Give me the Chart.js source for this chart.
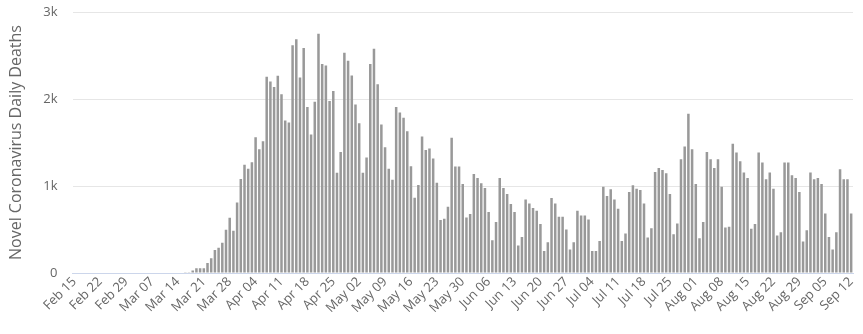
<!DOCTYPE html>
<html>
<head>
<meta charset="utf-8">
<script src="https://cdn.jsdelivr.net/npm/chart.js@4"></script>
<style>
  body { margin: 0; background: #fff; }
  #wrap { width: 863px; height: 334px; position: relative; }
</style>
</head>
<body>
<div id="wrap"><canvas id="deaths-chart"></canvas></div>
<script>
// first day of the series and how many days it covers
const startDate = new Date(2020, 1, 15);
const dayCount = 211;
const monthNames = ['Jan', 'Feb', 'Mar', 'Apr', 'May', 'Jun', 'Jul', 'Aug', 'Sep', 'Oct', 'Nov', 'Dec'];

// daily deaths, Feb 15 -> Sep 12
const dailyDeaths = [
    0, 0, 0, 0, 0, 0, 0, 0, 0, 0, 0, 0, 0, 0, 0,
    0, 0, 0, 0, 0, 0, 0, 0, 0, 0, 0, 0, 0, 0, 0,
    10, 10, 30, 55, 55, 55, 115, 170, 264, 290, 349, 496, 636,
    486, 811, 1081, 1243, 1197, 1274, 1560, 1421, 1514, 2255, 2201, 2139, 2266, 2054, 1753, 1730, 2618,
    2687, 2247, 2587, 1907, 1591, 1969, 2749, 2402, 2386, 1977, 2093, 1151, 1390, 2533, 2440, 2270, 1938,
    1722, 1151, 1328, 2402, 2579, 2170, 1707, 1444, 1197, 1073, 1907, 1846, 1784, 1629, 1228, 865, 1012,
    1569, 1415, 1431, 1315, 1038, 608, 623, 762, 1554, 1223, 1223, 1023, 638, 677, 1138, 1092,
    1031, 977, 700, 377, 585, 1092, 977, 908, 792, 700, 315, 415, 846, 800, 746, 715, 562,
    254, 354, 862, 800, 646, 646, 500, 269, 354, 715, 662, 662, 615, 254, 254, 369, 992,
    885, 962, 846, 738, 369, 454, 931, 1008, 969, 954, 800, 408, 515, 1162, 1208, 1185,
    1146, 908, 446, 569, 1308, 1454, 1831, 1423, 1023, 400, 585, 1392, 1308, 1208, 1308, 992, 523,
    531, 1485, 1385, 1285, 1154, 1092, 508, 562, 1385, 1269, 1077, 1154, 969, 431, 469, 1269, 1269,
    1123, 1092, 931, 362, 492, 1154, 1077, 1092, 1023, 685, 415, 269, 469, 1192, 1077, 1077, 685
];

const yTicks = [0, 1000, 2000, 3000];
const yTickLabels = ['0', '1k', '2k', '3k'];

const dayLabels = [];
for (let i = 0; i < dayCount; i++) {
    const d = new Date(startDate);
    d.setDate(startDate.getDate() + i);
    dayLabels.push(monthNames[d.getMonth()] + ' ' + String(d.getDate()).padStart(2, '0'));
}

const textColor = '#666666';
const font = { family: '"Open Sans", "DejaVu Sans", sans-serif', size: 13 };

const ctx = document.getElementById('deaths-chart').getContext('2d');
new Chart(ctx, {
    type: 'bar',
    data: {
        labels: dayLabels,
        datasets: [{
            label: 'Daily Deaths',
            data: dailyDeaths,
            backgroundColor: '#999999',
            borderWidth: 0,
            categoryPercentage: 0.8,
            barPercentage: 0.85
        }]
    },
    options: {
        responsive: true,
        maintainAspectRatio: false,
        animation: false,
        devicePixelRatio: 1,
        layout: { padding: { top: 12, right: 10, left: 0, bottom: 0 } },
        plugins: { legend: { display: false }, tooltip: { enabled: false } },
        scales: {
            x: {
                grid: { display: true, drawOnChartArea: false, drawTicks: false },
                border: { display: true, color: '#ccd6eb', width: 1 },
                ticks: {
                    autoSkip: false,
                    minRotation: 45,
                    maxRotation: 45,
                    padding: 1,
                    color: textColor,
                    font: font,
                    callback: (value, index) => index % 7 === 0 ? dayLabels[index] : ''
                },
                afterFit: (scale) => {
                    scale.height = 61;
                    scale.paddingLeft = 0;
                    scale.paddingRight = 0;
                }
            },
            y: {
                min: 0,
                max: 3000,
                afterBuildTicks: (scale) => { scale.ticks = yTicks.map(v => ({ value: v })); },
                grid: {
                    drawTicks: false,
                    color: (c) => c.tick && c.tick.value === 0 ? 'rgba(0,0,0,0)' : '#e6e6e6'
                },
                border: { display: false },
                ticks: {
                    padding: 15,
                    color: textColor,
                    font: font,
                    callback: (value) => yTickLabels[yTicks.indexOf(value)]
                },
                title: {
                    display: true,
                    text: 'Novel Coronavirus Daily Deaths',
                    color: textColor,
                    font: { family: font.family, size: 16 },
                    padding: { top: 7, bottom: 4 }
                },
                afterFit: (scale) => {
                    scale.width = 72.5;
                    scale.paddingTop = 0;
                    scale.paddingBottom = 0;
                }
            }
        }
    }
});
</script>
</body>
</html>
